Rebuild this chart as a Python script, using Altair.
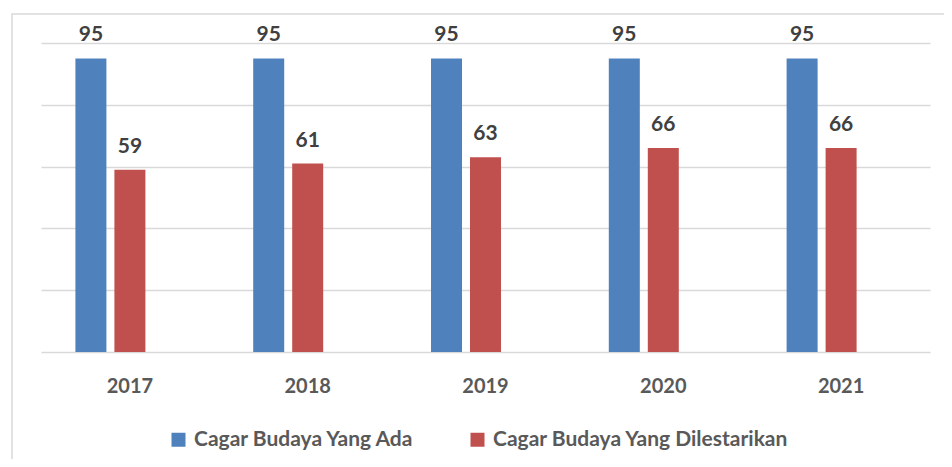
import altair as alt
import pandas as pd

years = ["2017", "2018", "2019", "2020", "2021"]
series_names = ["Cagar Budaya Yang Ada", "Cagar Budaya Yang Dilestarikan"]
ada = [95, 95, 95, 95, 95]
dilestarikan = [59, 61, 63, 66, 66]
colors = ["#4F81BD", "#C0504D"]

rows = []
for i, y in enumerate(years):
    rows.append({"year": y, "series": series_names[0], "value": ada[i]})
    rows.append({"year": y, "series": series_names[1], "value": dilestarikan[i]})
df = pd.DataFrame(rows)

W, H = 889, 309
FONT = "Lato"

x_enc = alt.X("year:N", sort=years, title=None,
              scale=alt.Scale(paddingInner=0.387, paddingOuter=0.1935),
              axis=alt.Axis(labelAngle=0, ticks=False, domain=False, grid=False,
                            labelPadding=24, labelFont=FONT, labelFontSize=20,
                            labelFontWeight="bold", labelColor="#595959"))
xo_enc = alt.XOffset("series:N",
                     scale=alt.Scale(domain=series_names + ["_ghost"],
                                     paddingInner=0.205, paddingOuter=0))
y_enc = alt.Y("value:Q", title=None,
              scale=alt.Scale(domain=[0, 100]),
              axis=alt.Axis(values=[0, 20, 40, 60, 80, 100], labels=False, ticks=False,
                            domain=False, grid=True, gridColor="#d9d9d9", gridWidth=1.3))

base = alt.Chart(df)

frame = alt.Chart(pd.DataFrame({"k": [0]})).mark_rect(
    fill=None, stroke="#d9d9d9", strokeWidth=1.5
).encode(x=alt.value(-29), x2=alt.value(W + 60), y=alt.value(-29), y2=alt.value(H + 200))

bars = base.mark_bar().encode(
    x=x_enc, xOffset=xo_enc, y=y_enc,
    color=alt.Color("series:N",
                    scale=alt.Scale(domain=series_names, range=colors),
                    legend=alt.Legend(title=None, orient="none", direction="horizontal",
                                      legendX=127, legendY=386,
                                      symbolType="square", symbolSize=196,
                                      symbolStrokeWidth=0, labelOffset=5,
                                      columnPadding=52, labelFont=FONT,
                                      labelFontSize=21, labelFontWeight="bold",
                                      labelColor="#595959", labelLimit=400)),
)

labels = base.mark_text(baseline="alphabetic", dy=-17, font=FONT, fontSize=21,
                        fontWeight="bold", color="#404040").encode(
    x=alt.X("year:N", sort=years), xOffset=alt.XOffset("series:N"),
    y=alt.Y("value:Q"), text=alt.Text("value:Q"),
)

chart = alt.layer(frame, bars, labels).properties(
    width=W, height=H,
    padding={"left": 33, "top": 35, "right": 14, "bottom": 107},
    autosize=alt.AutoSizeParams(type="none"),
).configure(background="white").configure_view(stroke=None)

chart.save("out.html", embed_options={"renderer": "svg", "actions": False})
